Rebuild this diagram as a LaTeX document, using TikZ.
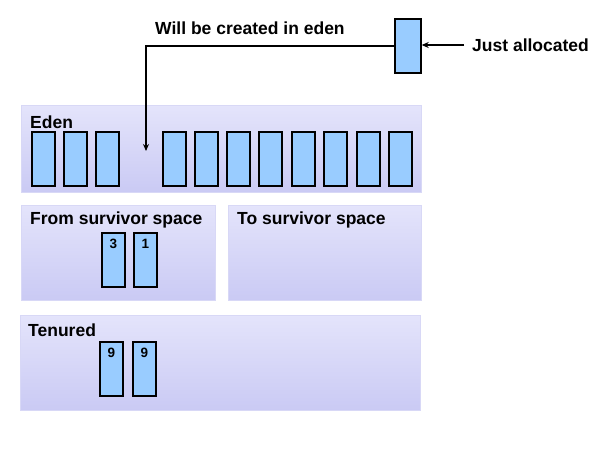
\documentclass[tikz,border=0pt]{standalone}
\usepackage{fontspec}
\setmainfont{Liberation Sans}
\usepackage{xcolor}
\usetikzlibrary{positioning, arrows.meta}
\definecolor{cellblue}{HTML}{99CCFF}
\definecolor{lavtop}{HTML}{E4E4FB}
\definecolor{lavbot}{HTML}{CACAF4}
\definecolor{lavedge}{HTML}{D8D8F6}

\tikzset{
  region/.style={top color=lavtop, bottom color=lavbot, draw=lavedge, line width=0.8pt,
                 inner sep=0pt, outer sep=0pt},
  cell/.style={fill=cellblue, draw=black, line width=1.4pt, inner sep=0pt,
               minimum width=23pt, minimum height=54pt},
  title/.style={font=\fontsize{17.5}{20}\selectfont\bfseries, inner sep=0pt},
  numlab/.style={font=\fontsize{13.5}{15}\selectfont\bfseries, inner sep=0pt},
  arrowline/.style={line width=1.3pt, -{Stealth[length=7pt, width=6pt]}}
}

\begin{document}
\begin{tikzpicture}[x=1pt, y=-1pt]
  \useasboundingbox[fill=white] (0,0) rectangle (607,461);

  % generations
  \node[region, minimum width=400pt, minimum height=87pt] (eden) at (221,148.5) {};
  \node[region, minimum width=194pt, minimum height=95pt] (from) at (118,252.5) {};
  \node[region, minimum width=193pt, minimum height=95pt] (to) at (324.5,252.5) {};
  \node[region, minimum width=400pt, minimum height=95pt] (tenured) at (220,362.5) {};

  \node[title, anchor=west] (edenlab) at (30,122) {Eden};
  \node[title, anchor=west] (fromlab) at (30,220) {From survivor space};
  \node[title, anchor=west] (tolab) at (237,220) {To survivor\ space};
  \node[title, anchor=west] (tenlab) at (28,330) {Tenured};

  % objects in eden, one slot left free
  \foreach \x [count=\i] in {32,64,96,163,195,227,259,292,324,357,389}
    \node[cell] (e\i) at (\x+11.5,159) {};

  % survivors and tenured objects with their ages
  \node[cell] (s1) at (113.5,260) {};
  \node[cell] (s2) at (145.5,260) {};
  \node[cell] (t1) at (111.5,369) {};
  \node[cell] (t2) at (144.5,369) {};
  \node[numlab, below=7pt of s1.north] (s1age) {3};
  \node[numlab, below=7pt of s2.north] (s2age) {1};
  \node[numlab, below=7pt of t1.north] (t1age) {9};
  \node[numlab, below=7pt of t2.north] (t2age) {9};

  % new object
  \node[cell, minimum width=26pt] (newobj) at (408,46) {};
  \node[title, anchor=west] (justlab) at (472,45) {Just allocated};
  \node[title, anchor=west] (willlab) at (155,28) {Will be created in eden};

  \coordinate (jstart) at (464,45);
  \coordinate (slot) at (146,151);
  \draw[arrowline] (jstart) -- (jstart -| newobj.east);
  \draw[arrowline] (newobj.west) -| (slot);
\end{tikzpicture}
\end{document}
